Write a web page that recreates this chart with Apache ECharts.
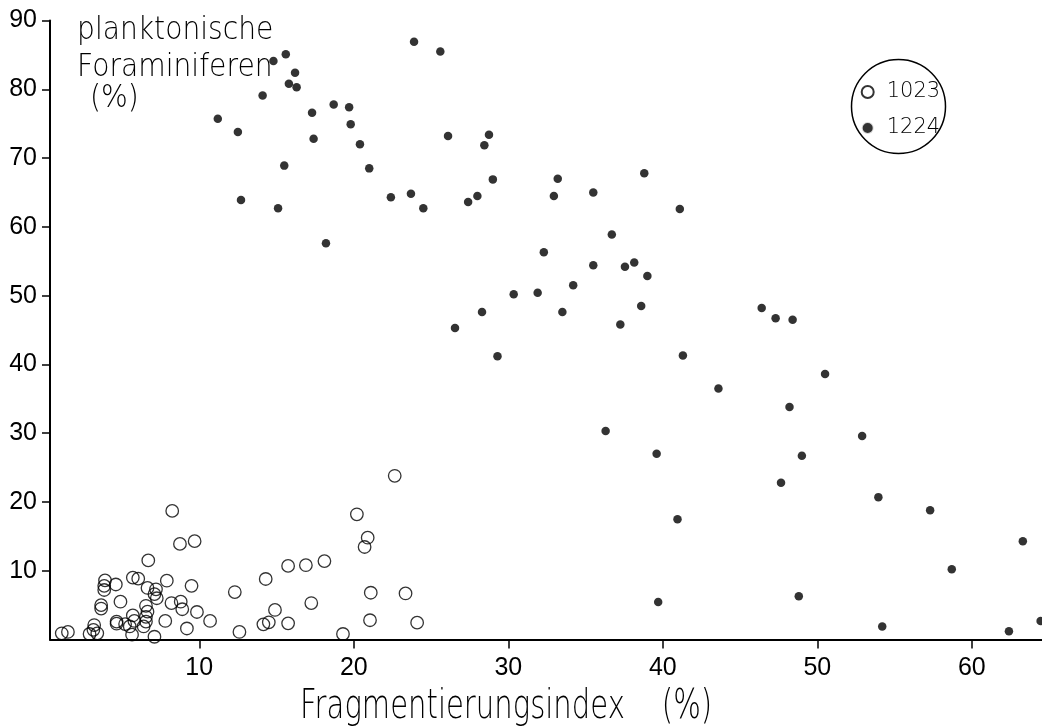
<!DOCTYPE html>
<html>
<head>
<meta charset="utf-8">
<script src="https://cdn.jsdelivr.net/npm/echarts@6/dist/echarts.min.js"></script>
<style>
html,body{margin:0;padding:0;background:#fff;}
#chart{width:1042px;height:728px;}
</style>
</head>
<body>
<div id="chart"></div>
<script>
// ---- data ----
const xTickValues = [10, 20, 30, 40, 50, 60];
const yTickValues = [10, 20, 30, 40, 50, 60, 70, 80, 90];
const seriesNames = ['1023', '1224'];
const xTitle = 'Fragmentierungsindex    (%)';
const yTitleLines = ['planktonische', 'Foraminiferen', '(%)'];

// site 1023 (open circles): [Fragmentierungsindex, planktonische Foraminiferen]
const site1023 = [
  [1.1, 0.9], [1.5, 1.1], [2.9, 0.8], [3.2, 2.1], [3.15, 1.4], [3.4, 0.9],
  [3.65, 5.0], [3.65, 4.5], [3.9, 8.6], [3.85, 7.8], [3.85, 7.2], [4.6, 8.0],
  [4.9, 5.5], [4.65, 2.6], [4.65, 2.3], [5.2, 2.25], [5.5, 1.9], [5.8, 2.7],
  [5.7, 3.5], [5.65, 0.7], [5.7, 9.0], [6.05, 8.85], [6.7, 11.5], [6.65, 7.5],
  [7.2, 7.3], [7.1, 6.6], [7.25, 6.0], [6.55, 4.9], [6.65, 4.05], [6.55, 3.3],
  [6.55, 2.6], [6.4, 1.9], [7.1, 0.4], [7.9, 8.55], [7.8, 2.7], [8.2, 5.3],
  [8.8, 5.5], [8.9, 4.4], [8.25, 18.7], [8.75, 13.9], [9.7, 14.3], [9.5, 7.8],
  [9.2, 1.6], [9.85, 4.0], [10.7, 2.7], [12.3, 6.9], [12.6, 1.1], [14.3, 8.8],
  [14.9, 4.3], [14.15, 2.2], [14.5, 2.5], [15.75, 10.7], [15.75, 2.35], [16.9, 10.8],
  [18.1, 11.4], [17.25, 5.3], [19.3, 0.8], [20.2, 18.2], [20.9, 14.8], [20.7, 13.45],
  [21.1, 6.8], [21.05, 2.8], [22.65, 23.8], [23.35, 6.7], [24.1, 2.45]
];

// site 1224 (filled dots)
const site1224 = [
  [11.2, 75.7], [12.5, 73.8], [12.7, 63.9], [14.1, 79.1], [14.8, 84.1], [15.6, 85.1],
  [15.5, 68.9], [15.1, 62.7], [15.8, 80.8], [16.2, 82.4], [16.3, 80.3], [17.3, 76.6],
  [17.4, 72.8], [18.2, 57.6], [18.7, 77.8], [19.7, 77.4], [19.8, 74.9], [20.4, 72.0],
  [21.0, 68.5], [22.4, 64.3], [23.7, 64.8], [23.9, 86.9], [24.5, 62.7], [25.6, 85.5],
  [26.1, 73.2], [26.55, 45.3], [27.4, 63.6], [28.0, 64.5], [28.3, 47.6], [28.45, 71.85],
  [28.75, 73.4], [29.0, 66.9], [29.3, 41.2], [30.35, 50.2], [31.9, 50.4], [32.3, 56.3],
  [32.95, 64.5], [33.2, 67.0], [33.5, 47.6], [34.2, 51.5], [35.5, 65.0], [35.5, 54.4],
  [36.3, 30.3], [36.7, 58.9], [37.25, 45.8], [37.55, 54.2], [38.15, 54.8], [38.6, 48.5],
  [38.8, 67.8], [39.0, 52.85], [39.6, 27.0], [39.7, 5.45], [40.95, 17.5], [41.1, 62.6],
  [41.3, 41.3], [43.6, 36.5], [46.4, 48.2], [47.3, 46.7], [47.65, 22.8], [48.2, 33.8],
  [48.4, 46.5], [48.8, 6.3], [49.0, 26.7], [50.5, 38.6], [52.9, 29.6], [53.95, 20.7],
  [54.2, 1.9], [57.3, 18.8], [58.7, 10.2], [62.4, 1.2], [63.3, 14.3], [64.45, 2.7]
];

// ---- chart ----
const ink = '#000';
const thinFont = '"DejaVu Sans", "Noto Sans", sans-serif';
const chart = echarts.init(document.getElementById('chart'), null, {renderer: 'canvas'});

chart.setOption({
  backgroundColor: '#fff',
  animation: false,
  grid: {left: 50, right: 0, top: 20.5, bottom: 88.5, containLabel: false},
  xAxis: {
    type: 'value',
    min: 0.34,
    max: 64.54,
    axisLine: {show: true, onZero: false, lineStyle: {color: ink, width: 2}},
    axisTick: {show: true, inside: false, length: 9, customValues: xTickValues,
      lineStyle: {color: ink, width: 1.5}},
    axisLabel: {show: true, customValues: xTickValues, margin: 16, color: ink,
      fontFamily: '"Liberation Sans", Arial, sans-serif', fontSize: 25},
    splitLine: {show: false}
  },
  yAxis: {
    type: 'value',
    min: 0,
    max: 90,
    interval: 10,
    axisLine: {show: true, onZero: false, lineStyle: {color: ink, width: 2}},
    axisTick: {show: true, inside: false, length: 8, customValues: yTickValues,
      lineStyle: {color: ink, width: 1.5}},
    axisLabel: {show: true, customValues: yTickValues, margin: 13, color: ink,
      fontFamily: '"Liberation Sans", Arial, sans-serif', fontSize: 25},
    splitLine: {show: false}
  },
  legend: {
    orient: 'vertical',
    left: 860.7,
    top: 81.5,
    padding: 0,
    itemWidth: 12,
    itemHeight: 12,
    itemGap: 15,
    icon: 'circle',
    data: [
      {name: seriesNames[0]},
      {name: seriesNames[1], itemStyle: {color: ink, borderColor: '#fff', borderWidth: 2}}
    ],
    textStyle: {color: ink, fontFamily: thinFont, fontWeight: 200, fontSize: 21,
      padding: [0, 0, 0, 8]}
  },
  series: [
    {
      name: seriesNames[0],
      type: 'scatter',
      data: site1023,
      symbol: 'circle',
      symbolSize: 12.5,
      itemStyle: {color: 'rgba(255,255,255,0)', borderColor: ink, borderWidth: 1.3},
      z: 3
    },
    {
      name: seriesNames[1],
      type: 'scatter',
      data: site1224,
      symbol: 'circle',
      symbolSize: 8.5,
      itemStyle: {color: ink, borderWidth: 0},
      z: 4
    }
  ],
  graphic: [
    {type: 'circle', shape: {cx: 898.5, cy: 106.5, r: 47},
      style: {fill: 'none', stroke: ink, lineWidth: 1.5}, silent: true},
    {type: 'text', x: 77, y: 31, scaleX: 0.88,
      style: {text: yTitleLines[0], fill: ink, font: '200 32px ' + thinFont, verticalAlign: 'middle'}},
    {type: 'text', x: 77, y: 68, scaleX: 0.88,
      style: {text: yTitleLines[1], fill: ink, font: '200 32px ' + thinFont, verticalAlign: 'middle'}},
    {type: 'text', x: 90, y: 99, scaleX: 0.88,
      style: {text: yTitleLines[2], fill: ink, font: '200 32px ' + thinFont, verticalAlign: 'middle'}},
    {type: 'text', x: 300, y: 708, scaleX: 0.727,
      style: {text: xTitle, fill: ink, font: '200 40px ' + thinFont, verticalAlign: 'middle'}}
  ]
});
</script>
</body>
</html>
